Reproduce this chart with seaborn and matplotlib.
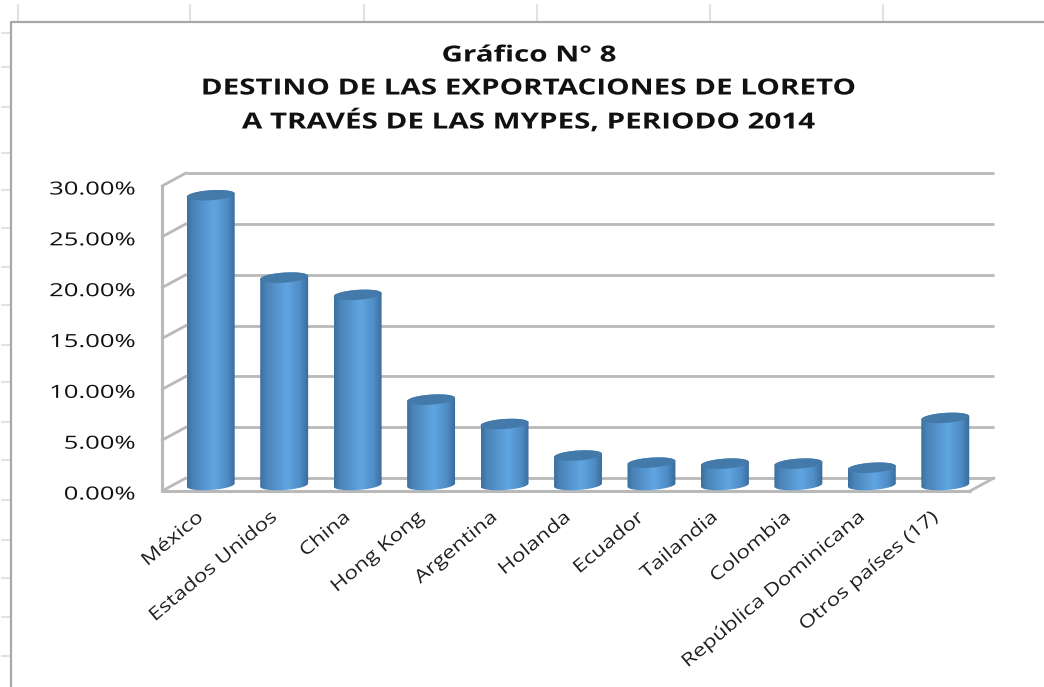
import numpy as np
import pandas as pd
import seaborn as sns
import matplotlib
matplotlib.use("Agg")
import matplotlib.pyplot as plt
from matplotlib.path import Path
from matplotlib.patches import PathPatch
from matplotlib.lines import Line2D
from matplotlib.transforms import offset_copy, Affine2D, ScaledTranslation
from matplotlib.colors import LinearSegmentedColormap
from matplotlib.patheffects import AbstractPathEffect

categories = ["México", "Estados Unidos", "China", "Hong Kong", "Argentina", "Holanda",
              "Ecuador", "Tailandia", "Colombia", "República Dominicana", "Otros países (17)"]
values = [28.5, 20.4, 18.7, 8.4, 6.0, 2.9, 2.2, 2.1, 2.1, 1.7, 6.6]
y_ticks = [0, 5, 10, 15, 20, 25, 30]
title_lines = ["Gráfico N° 8", "DESTINO DE LAS EXPORTACIONES DE LORETO", "A TRAVÉS DE LAS MYPES, PERIODO 2014"]
sheet_col_x = [18, 190, 364, 537, 710, 883]
sheet_row_y = [33, 67, 107, 153, 190, 228, 267, 305, 345, 382, 422, 460, 500, 540, 578, 617, 656]

W, H = 1044, 687
sns.set_theme(style="white")
plt.rcParams["font.family"] = ["Open Sans", "DejaVu Sans"]
fig = plt.figure(figsize=(W / 100, H / 100), dpi=100, facecolor="white")
L, R, T, B = 174, 982, 186, 491
ax = fig.add_axes([L / W, 1 - B / H, (R - L) / W, (B - T) / H])
ax.patch.set_alpha(0)


class Stretch(AbstractPathEffect):
    """Widens text along its baseline, as in the stretched screenshot."""

    def __init__(self, sx, anchor="center"):
        super().__init__()
        self.sx, self.anchor = sx, anchor

    def draw_path(self, renderer, gc, tpath, affine, rgbFace=None):
        ext = tpath.get_extents()
        ox = {"center": (ext.x0 + ext.x1) / 2, "right": ext.x1, "left": ext.x0}[self.anchor]
        tr = Affine2D().translate(-ox, 0).scale(self.sx, 1).translate(ox, 0) + affine
        renderer.draw_path(gc, tpath, tr, rgbFace)


df = pd.DataFrame({"pais": categories, "valor": values})
sns.barplot(data=df, x="pais", y="valor", color="#5a9bd5", width=0.654, ax=ax, saturation=1, zorder=3)
ax.set_xlim(-0.5, len(categories) - 0.5)
ax.set_ylim(0, 30)
px_y = (B - T) / 30
px_x = (R - L) / len(categories)

back = offset_copy(ax.transData, fig=fig, x=12, y=13, units="dots")
front = offset_copy(ax.transData, fig=fig, x=-12, y=0, units="dots")
mid = offset_copy(ax.transData, fig=fig, x=0, y=6, units="dots")

wall = "#b9b9b9"
x0, x1 = -0.5, len(categories) - 0.5
for v in y_ticks:
    ax.plot([x0, x1], [v, v], color=wall, lw=2, transform=back, clip_on=False, zorder=1, solid_capstyle="butt")
    pa = front.transform((x0, v))
    pb = back.transform((x0, v))
    fig.add_artist(Line2D([pa[0] / W, pb[0] / W], [pa[1] / H, pb[1] / H], color=wall, lw=2, zorder=1))
ax.plot([x0, x0], [0, 30], color=wall, lw=2.2, transform=front, clip_on=False, zorder=1)
ax.plot([x0, x1], [0, 0], color=wall, lw=2.2, transform=front, clip_on=False, zorder=1)
pa = front.transform((x1, 0))
pb = back.transform((x1, 0))
fig.add_artist(Line2D([pa[0] / W, pb[0] / W], [pa[1] / H, pb[1] / H], color=wall, lw=2, zorder=1))

cmap = LinearSegmentedColormap.from_list(
    "cyl", [(0, "#3b6f9f"), (0.12, "#4a83b8"), (0.55, "#60a5e2"), (0.82, "#4f8dc6"), (1, "#38699a")])
grad = np.linspace(0, 1, 128)[None, :]


def ellipse(xc, yc, w, h_px, angle_deg, t):
    a = np.deg2rad(angle_deg)
    ex = (w / 2 * px_x) * np.cos(t)
    ey = (h_px / 2) * np.sin(t)
    return np.c_[xc + (ex * np.cos(a) - ey * np.sin(a)) / px_x, yc + (ex * np.sin(a) + ey * np.cos(a)) / px_y]


for bar in list(ax.patches):
    bx, bw, bh = bar.get_x(), bar.get_width(), bar.get_height()
    xc = bx + bw / 2
    bar.set_visible(False)
    low = ellipse(xc, 0, bw, 10, 4, np.linspace(np.pi, 2 * np.pi, 40))
    up = ellipse(xc, bh, bw, 10, 4, np.linspace(0, np.pi, 40))
    body = np.r_[low, up, low[:1]]
    clip = PathPatch(Path(body), transform=mid, fc="none", ec="none")
    im = ax.imshow(grad, extent=(bx, bx + bw, -2, bh + 2), aspect="auto", cmap=cmap, vmin=0, vmax=1,
                   transform=mid, zorder=4, interpolation="bilinear")
    im.set_clip_path(clip)
    cap = ellipse(xc, bh, bw, 10, 4, np.linspace(0, 2 * np.pi, 80))
    ax.fill(cap[:, 0], cap[:, 1], color="#447aaa", transform=mid, zorder=5, lw=0, clip_on=False)

ax.set_xlim(x0, x1)
ax.set_ylim(0, 30)
sns.despine(ax=ax, left=True, bottom=True)
ax.set_xlabel("")
ax.set_ylabel("")
ax.set_yticks(y_ticks)
ax.set_yticklabels([f"{v:.2f}%" for v in y_ticks], fontsize=13, color="#111111")
ax.tick_params(axis="y", length=0, pad=28)
for lab in ax.get_yticklabels():
    lab.set_path_effects([Stretch(1.42, "right")])
    lab.set_transform(lab.get_transform() + ScaledTranslation(0, -1.5 / 100, fig.dpi_scale_trans))
ax.set_xticks(range(len(categories)))
ax.set_xticklabels(categories, rotation=40, ha="right", rotation_mode="anchor", fontsize=13, color="#222222")
ax.tick_params(axis="x", length=0, pad=14)
for lab in ax.get_xticklabels():
    lab.set_path_effects([Stretch(1.24, "right")])
    lab.set_transform(lab.get_transform() + ScaledTranslation(-16 / 100, 2 / 100, fig.dpi_scale_trans))

for line, y in zip(title_lines, [56, 89, 122]):
    t = fig.text(529 / W, 1 - y / H, line, ha="center", va="center", fontsize=16, fontweight="bold", color="#111111")
    t.set_path_effects([Stretch(1.33, "center")])

for x in sheet_col_x:
    fig.add_artist(Line2D([x / W, x / W], [1 - 5 / H, 1 - 21 / H], color="#e2e2e2", lw=1.5))
for y in sheet_row_y:
    fig.add_artist(Line2D([2 / W, 11 / W], [1 - y / H, 1 - y / H], color="#e2e2e2", lw=1.5))
fig.add_artist(Line2D([11 / W, 11 / W, 1], [0, 1 - 22 / H, 1 - 22 / H], color="#a8a8a8", lw=1.6))

fig.savefig("out.png", dpi=100, facecolor="white")
